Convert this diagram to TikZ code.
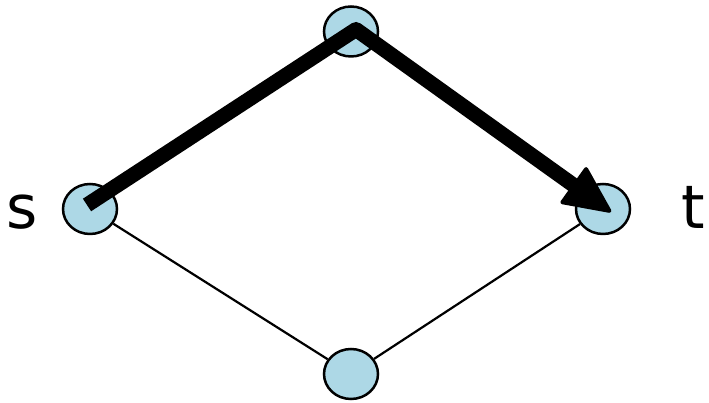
\documentclass[tikz,border=0pt]{standalone}
\usepackage{fontspec}
\setmainfont{DejaVu Sans}
\usetikzlibrary{arrows.meta,shapes.geometric}
\definecolor{nodeblue}{HTML}{ADD8E6}
\begin{document}
\begin{tikzpicture}[x=1pt,y=1pt,
  vert/.style={ellipse,draw=black,line width=2.5pt,fill=nodeblue,minimum width=54pt,minimum height=50pt,inner sep=0pt},
  lbl/.style={font=\fontsize{60}{60}\selectfont,inner sep=0pt},
  thin/.style={line width=2.2pt},
  heavy/.style={line width=15pt,line join=round,-{Triangle[length=50pt,width=46pt,line width=4pt,round]}}]
\useasboundingbox (0,0) rectangle (709,403);
\node[vert] (s) at (90,194) {};
\node[vert] (a) at (351,371.5) {};
\node[vert] (t) at (603,194) {};
\node[vert] (b) at (351,29) {};
\node[lbl,anchor=base] (ls) at (22,174) {s};
\node[lbl,anchor=base] (lt) at (693,174) {t};
\draw[thin] (s) -- (b);
\draw[thin] (b) -- (t);
\draw[heavy] ([shift={(-3,4)}]s.center) -- ([shift={(5,2)}]a.center) -- ([shift={(8,-3)}]t.center);
\end{tikzpicture}
\end{document}
